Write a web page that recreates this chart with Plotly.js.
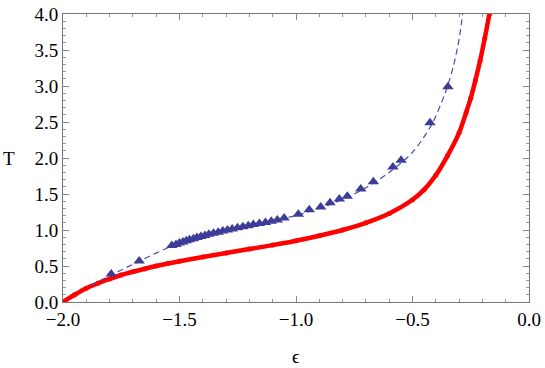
<!DOCTYPE html>
<html>
<head>
<meta charset="utf-8">
<script src="https://cdn.plot.ly/plotly-3.0.1.min.js"></script>
<style>
  html, body { margin: 0; padding: 0; background: #fff; }
  #chart { width: 545px; height: 368px; }
  #chart text { font-family: "Liberation Serif", "DejaVu Serif", serif !important; }
</style>
</head>
<body>
<div id="chart"></div>
<script>
// red curve (dense points)
const redEps = [-2.0, -1.95, -1.9, -1.85, -1.8, -1.75, -1.7, -1.65, -1.6, -1.55, -1.5,
                -1.4, -1.3, -1.2, -1.1, -1.0, -0.9, -0.8, -0.7, -0.6, -0.5, -0.45,
                -0.4, -0.35, -0.3, -0.27, -0.25, -0.23, -0.21, -0.19, -0.17];
const redT   = [0.0, 0.10, 0.19, 0.26, 0.32, 0.375, 0.42, 0.46, 0.50, 0.535, 0.565,
                0.625, 0.68, 0.735, 0.79, 0.85, 0.92, 1.0, 1.10, 1.23, 1.42, 1.56,
                1.76, 2.03, 2.35, 2.63, 2.83, 3.08, 3.35, 3.66, 4.0];

// triangles
const triEps = [-1.793, -1.673,
                -1.533, -1.515, -1.500, -1.485, -1.471, -1.457, -1.440, -1.425, -1.408,
                -1.391, -1.374, -1.354, -1.334, -1.314, -1.294, -1.274, -1.251, -1.228,
                -1.205, -1.183, -1.157, -1.131, -1.106, -1.080, -1.051,
                -0.990, -0.943, -0.894, -0.854, -0.814, -0.780, -0.722, -0.668,
                -0.584, -0.549, -0.425, -0.348];
const triT   = [0.39, 0.57,
                0.785, 0.80, 0.82, 0.835, 0.85, 0.865, 0.88, 0.895, 0.91,
                0.925, 0.94, 0.955, 0.97, 0.985, 1.00, 1.015, 1.03, 1.045,
                1.06, 1.075, 1.09, 1.105, 1.12, 1.14, 1.165,
                1.22, 1.28, 1.32, 1.38, 1.43, 1.47, 1.57, 1.67,
                1.875, 1.97, 2.49, 2.99];

// dashed curve
const dashEps = [-1.88, -1.79, -1.67, -1.53, -1.4, -1.25, -1.1, -0.99, -0.85,
                 -0.72, -0.6, -0.5, -0.42, -0.36, -0.325, -0.3, -0.285];
const dashT   = [0.23, 0.38, 0.57, 0.78, 0.90, 1.02, 1.13, 1.21, 1.36,
                 1.55, 1.80, 2.08, 2.45, 2.90, 3.27, 3.65, 4.0];

const xTicks = [-2.0, -1.5, -1.0, -0.5, 0.0];
const xTickText = ['\u22122.0', '\u22121.5', '\u22121.0', '\u22120.5', '0.0'];
const yTicks = [0, 0.5, 1, 1.5, 2, 2.5, 3, 3.5, 4];
const yTickText = ['0.0', '0.5', '1.0', '1.5', '2.0', '2.5', '3.0', '3.5', '4.0'];

const redTrace = {
    x: redEps, y: redT, type: 'scatter', mode: 'lines+markers',
    line: { color: '#ff0000', width: 4.5, shape: 'spline', smoothing: 0.8 },
    marker: { color: '#ff0000', size: 5 }
};
const dashTrace = {
    x: dashEps, y: dashT, type: 'scatter', mode: 'lines',
    line: { color: '#4b4ba6', width: 1.2, dash: '6px,4px', shape: 'spline', smoothing: 0.8 }
};
const triTrace = {
    x: triEps, y: triT, type: 'scatter', mode: 'markers',
    marker: { symbol: 'triangle-up', color: '#3d3d99', size: 10 }
};

const serif = 'Liberation Serif, DejaVu Serif, serif';
const txt = { family: serif, size: 19, color: '#000' };

const layout = {
    width: 545, height: 368,
    margin: { l: 63, r: 16, t: 14, b: 66 },
    paper_bgcolor: '#fff', plot_bgcolor: '#fff',
    showlegend: false,
    font: txt,
    xaxis: {
        range: [-2.0, 0.0], tickvals: xTicks, ticktext: xTickText,
        ticks: 'inside', ticklen: 6, tickcolor: '#888', tickwidth: 1,
        minor: { dtick: 0.1, tick0: 0, ticks: 'inside', ticklen: 3, tickcolor: '#999', tickwidth: 1 },
        showline: true, linecolor: '#777', linewidth: 1, mirror: 'allticks',
        showgrid: false, zeroline: false, tickfont: txt
    },
    yaxis: {
        range: [0, 4.0], tickvals: yTicks, ticktext: yTickText,
        ticks: 'inside', ticklen: 6, tickcolor: '#888', tickwidth: 1,
        minor: { dtick: 0.1, tick0: 0, ticks: 'inside', ticklen: 3, tickcolor: '#999', tickwidth: 1 },
        showline: true, linecolor: '#777', linewidth: 1, mirror: 'allticks',
        showgrid: false, zeroline: false, tickfont: txt
    },
    annotations: [
        { text: 'T', xref: 'paper', yref: 'paper', x: -0.115, y: 0.5, showarrow: false,
          xanchor: 'center', yanchor: 'middle', font: txt },
        { text: '\u03f5', xref: 'paper', yref: 'paper', x: 0.5, y: -0.19, showarrow: false,
          xanchor: 'center', yanchor: 'middle', font: txt }
    ]
};

Plotly.newPlot('chart', [redTrace, dashTrace, triTrace], layout, { displayModeBar: false, staticPlot: true });
</script>
</body>
</html>
